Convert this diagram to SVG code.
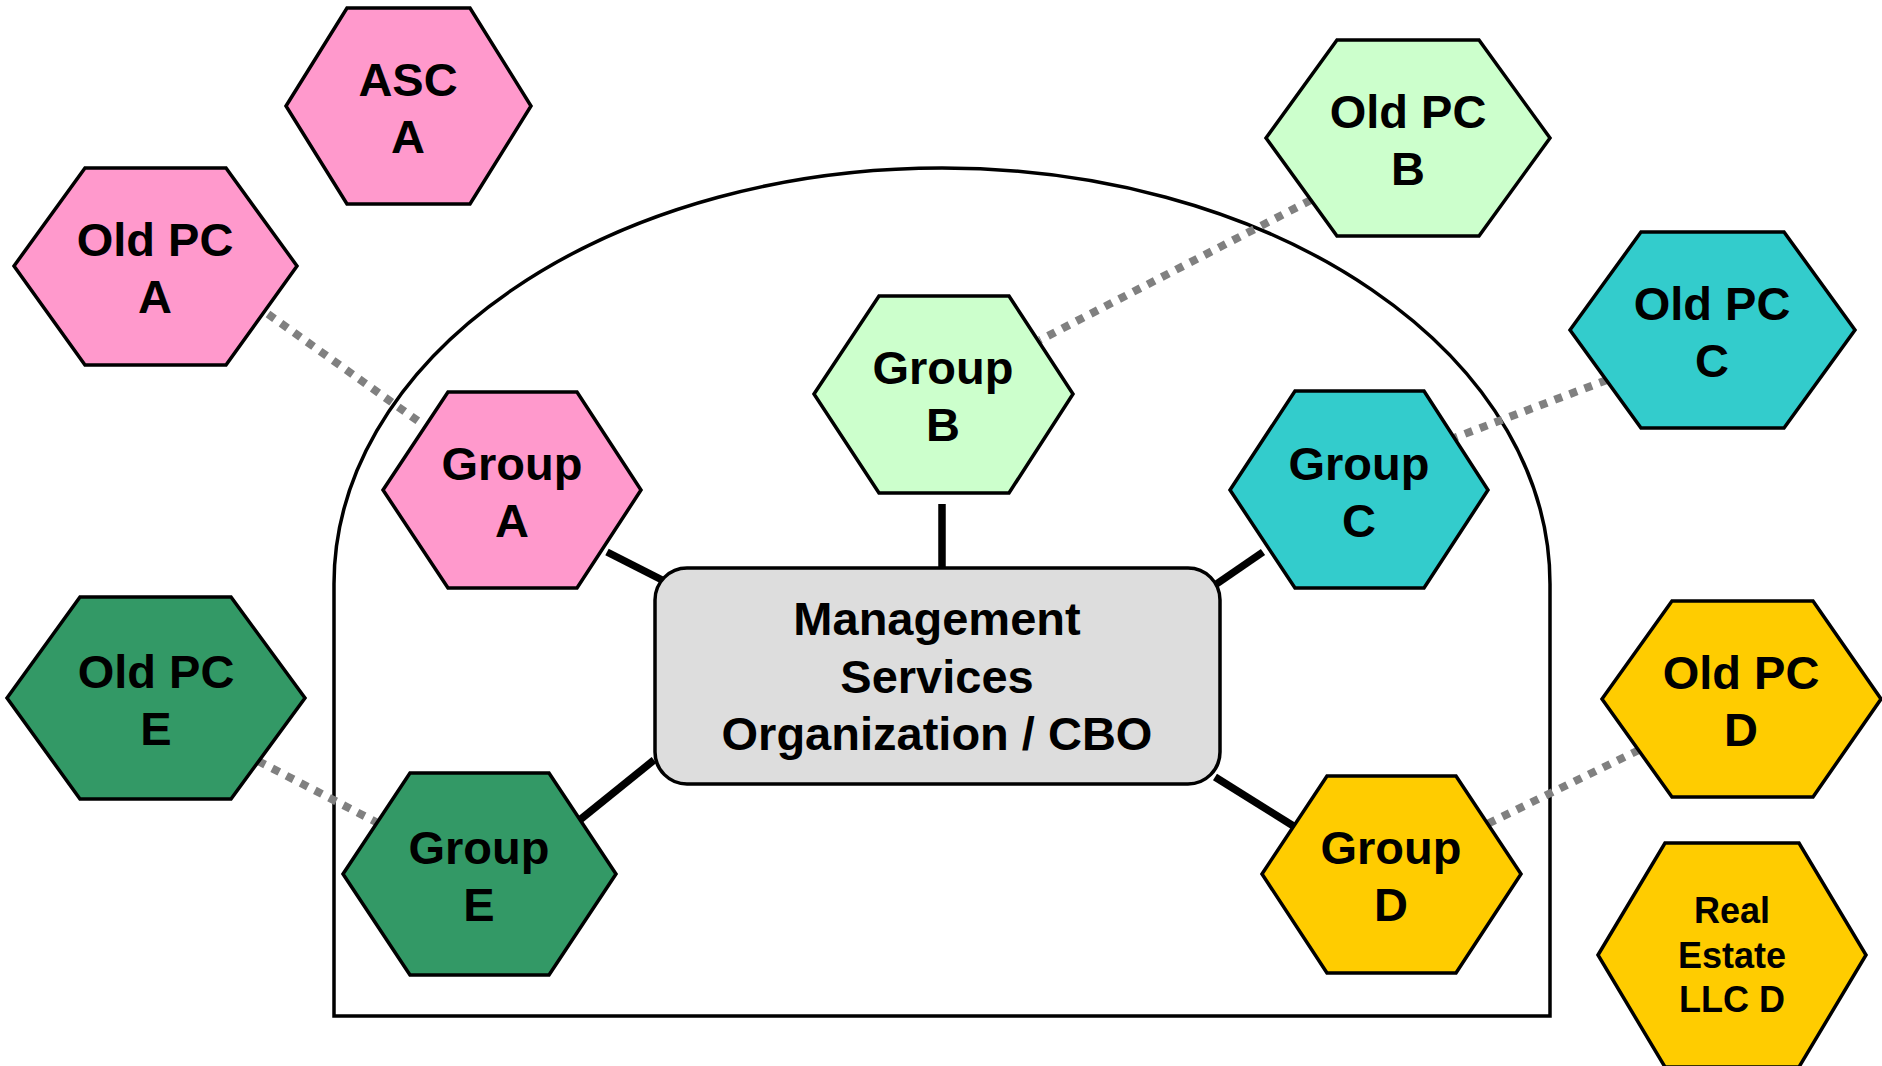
<svg xmlns="http://www.w3.org/2000/svg" width="1882" height="1066" viewBox="0 0 1882 1066">
<style>
.hex{stroke:#000;stroke-width:3.5;stroke-linejoin:miter}
.pink{fill:#FF99CC}.lgreen{fill:#CCFFCC}.teal{fill:#33CCCC}.dgreen{fill:#339966}.gold{fill:#FFCC00}
.t{font-family:"Liberation Sans",Arial,sans-serif;font-weight:bold;font-size:47px;text-anchor:middle;fill:#000}
.ts{font-size:36px}
.solid{stroke:#000;stroke-width:7.5;fill:none}
.dot{stroke:#808080;stroke-width:8;stroke-dasharray:8 8;fill:none}
</style>
<rect width="1882" height="1066" fill="#fff"/>
<path id="boundary" d="M334,1016 L334,584 A608,416 0 0 1 1550,584 L1550,1016 Z" fill="none" stroke="#000" stroke-width="3.5"/>
<g id="connectors">
<line class="dot" x1="268" y1="314" x2="425" y2="426"/>
<line class="dot" x1="1311" y1="200" x2="1040" y2="340"/>
<line class="dot" x1="1607" y1="380" x2="1454" y2="438"/>
<line class="dot" x1="1639" y1="750" x2="1487" y2="824"/>
<line class="dot" x1="258" y1="761" x2="376" y2="822"/>
<line class="solid" x1="607" y1="552" x2="670" y2="584"/>
<line class="solid" x1="942" y1="504" x2="942" y2="567"/>
<line class="solid" x1="1215" y1="585" x2="1263" y2="552"/>
<line class="solid" x1="1215" y1="777" x2="1295" y2="827"/>
<line class="solid" x1="576" y1="823" x2="654" y2="760"/>
</g>
<g id="mso">
<rect x="655" y="568" width="565" height="216" rx="32" ry="32" fill="#DDDDDD" stroke="#000" stroke-width="3.5"/>
<text class="t" x="937" y="635">Management</text>
<text class="t" x="937" y="693">Services</text>
<text class="t" x="937" y="750">Organization / CBO</text>
</g>
<g id="asc-a">
<polygon class="hex pink" points="286,106 347,8 470,8 531,106 470,204 347,204"/>
<text class="t" x="408" y="96">ASC</text><text class="t" x="408" y="153">A</text>
</g>
<g id="old-pc-a">
<polygon class="hex pink" points="14,266 85,168 226,168 297,266 226,365 85,365"/>
<text class="t" x="155" y="256">Old PC</text><text class="t" x="155" y="313">A</text>
</g>
<g id="old-pc-b">
<polygon class="hex lgreen" points="1266,138 1337,40 1479,40 1550,138 1479,236 1337,236"/>
<text class="t" x="1408" y="128">Old PC</text><text class="t" x="1408" y="185">B</text>
</g>
<g id="old-pc-c">
<polygon class="hex teal" points="1570,330 1641,232 1784,232 1855,330 1784,428 1641,428"/>
<text class="t" x="1712" y="320">Old PC</text><text class="t" x="1712" y="377">C</text>
</g>
<g id="group-a">
<polygon class="hex pink" points="383,490 448,392 577,392 641,490 577,588 448,588"/>
<text class="t" x="512" y="480">Group</text><text class="t" x="512" y="537">A</text>
</g>
<g id="group-b">
<polygon class="hex lgreen" points="814,394 879,296 1009,296 1073,394 1009,493 879,493"/>
<text class="t" x="943" y="384">Group</text><text class="t" x="943" y="441">B</text>
</g>
<g id="group-c">
<polygon class="hex teal" points="1230,490 1295,391 1424,391 1488,490 1424,588 1295,588"/>
<text class="t" x="1359" y="480">Group</text><text class="t" x="1359" y="537">C</text>
</g>
<g id="old-pc-e">
<polygon class="hex dgreen" points="7,698 80,597 231,597 305,698 231,799 80,799"/>
<text class="t" x="156" y="688">Old PC</text><text class="t" x="156" y="745">E</text>
</g>
<g id="group-e">
<polygon class="hex dgreen" points="343,874 410,773 549,773 616,874 549,975 410,975"/>
<text class="t" x="479" y="864">Group</text><text class="t" x="479" y="921">E</text>
</g>
<g id="group-d">
<polygon class="hex gold" points="1262,874 1327,776 1456,776 1521,874 1456,973 1327,973"/>
<text class="t" x="1391" y="864">Group</text><text class="t" x="1391" y="921">D</text>
</g>
<g id="old-pc-d">
<polygon class="hex gold" points="1602,699 1672,601 1813,601 1881,699 1813,797 1672,797"/>
<text class="t" x="1741" y="689">Old PC</text><text class="t" x="1741" y="746">D</text>
</g>
<g id="real-estate-llc-d">
<polygon class="hex gold" points="1598,955 1665,843 1799,843 1866,955 1799,1067 1665,1067"/>
<text class="t ts" x="1732" y="923">Real</text><text class="t ts" x="1732" y="968">Estate</text><text class="t ts" x="1732" y="1012">LLC D</text>
</g>
</svg>
